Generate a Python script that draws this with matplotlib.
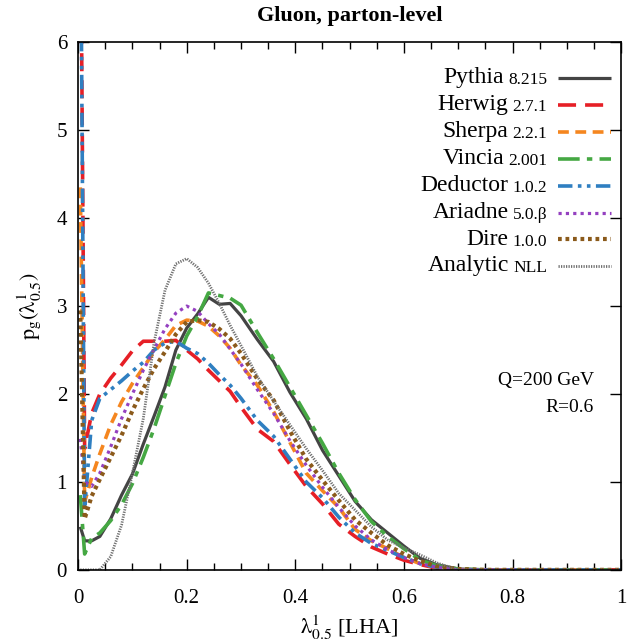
import matplotlib
matplotlib.use("Agg")
from matplotlib import pyplot as plt
from matplotlib.ticker import MultipleLocator

plt.rcParams['font.family'] = ['Liberation Serif', 'DejaVu Serif']
plt.rcParams['mathtext.fontset'] = 'stix'

# lambda^1_0.5 bin positions
lam = [0.004, 0.012, 0.025, 0.04, 0.06, 0.08, 0.10, 0.12, 0.14, 0.16, 0.18, 0.20,
       0.22, 0.24, 0.26, 0.28, 0.30, 0.33, 0.36, 0.39, 0.42, 0.45, 0.48, 0.51,
       0.54, 0.57, 0.60, 0.63, 0.66, 0.70, 0.75, 1.0]

pythia = [0.49, 0.33, 0.33, 0.38, 0.58, 0.85, 1.09, 1.43, 1.75, 2.08, 2.50, 2.75,
          2.91, 3.10, 3.02, 3.03, 2.89, 2.62, 2.37, 2.02, 1.72, 1.36, 1.07, 0.78,
          0.57, 0.42, 0.27, 0.13, 0.06, 0.01, 0.0, 0.0]
herwig = [8.0, 1.38, 1.78, 2.00, 2.18, 2.33, 2.49, 2.60, 2.60, 2.60, 2.61, 2.50,
          2.40, 2.27, 2.15, 2.03, 1.85, 1.60, 1.46, 1.20, 0.95, 0.75, 0.52, 0.38,
          0.26, 0.18, 0.11, 0.06, 0.02, 0.0, 0.0, 0.0]
sherpa = [4.35, 0.77, 1.05, 1.32, 1.65, 1.91, 2.12, 2.30, 2.48, 2.62, 2.78, 2.84,
          2.83, 2.77, 2.66, 2.52, 2.33, 2.10, 1.80, 1.45, 1.10, 0.90, 0.71, 0.46,
          0.33, 0.24, 0.14, 0.07, 0.03, 0.0, 0.0, 0.0]
vincia = [0.85, 0.18, 0.36, 0.42, 0.56, 0.74, 0.98, 1.28, 1.61, 1.98, 2.35, 2.66,
          2.88, 3.15, 3.12, 3.09, 3.01, 2.70, 2.40, 2.08, 1.76, 1.44, 1.10, 0.80,
          0.55, 0.38, 0.24, 0.11, 0.05, 0.01, 0.0, 0.0]
deductor = [8.0, 0.70, 1.70, 1.95, 2.05, 2.15, 2.26, 2.36, 2.50, 2.58, 2.60, 2.52,
            2.46, 2.35, 2.22, 2.10, 1.95, 1.70, 1.52, 1.26, 1.00, 0.82, 0.60, 0.42,
            0.30, 0.22, 0.14, 0.07, 0.03, 0.0, 0.0, 0.0]
ariadne = [1.49, 1.00, 0.95, 1.10, 1.40, 1.72, 2.00, 2.27, 2.51, 2.74, 2.92, 3.00,
           2.94, 2.80, 2.68, 2.51, 2.34, 2.05, 1.78, 1.47, 1.19, 0.94, 0.71, 0.50,
           0.34, 0.23, 0.14, 0.07, 0.03, 0.0, 0.0, 0.0]
dire = [2.95, 0.58, 0.84, 1.03, 1.28, 1.53, 1.81, 2.06, 2.29, 2.48, 2.68, 2.82,
        2.84, 2.82, 2.74, 2.63, 2.46, 2.17, 1.93, 1.58, 1.26, 1.02, 0.79, 0.57,
        0.42, 0.28, 0.18, 0.10, 0.04, 0.01, 0.0, 0.0]
analytic = [0.0, 0.0, 0.0, 0.0, 0.15, 0.51, 1.10, 1.72, 2.59, 3.18, 3.48, 3.54,
            3.44, 3.26, 3.03, 2.78, 2.55, 2.20, 1.92, 1.65, 1.38, 1.13, 0.87, 0.68,
            0.49, 0.34, 0.25, 0.17, 0.08, 0.0, 0.0, 0.0]

names = ['Pythia', 'Herwig', 'Sherpa', 'Vincia', 'Deductor', 'Ariadne', 'Dire', 'Analytic']
versions = ['8.215', '2.7.1', '2.2.1', '2.001', '1.0.2', '5.0.\u03b2', '1.0.0', 'NLL']
series = [pythia, herwig, sherpa, vincia, deductor, ariadne, dire, analytic]
colors = ['#444444', '#e61f26', '#f5861f', '#45a843', '#2f7fc1', '#9440c0', '#8b5a1b', '#707070']
styles = [(0, ()), (0, (5, 2.5)), (0, (3, 1.8)), (0, (6, 2, 1.5, 2)),
          (0, (4, 1.5, 1, 1.5, 1, 1.5)), (0, (1, 1.3)), (0, (0.9, 0.9)), (0, (0.45, 0.45))]
widths = [2.3, 2.6, 2.6, 2.6, 2.6, 2.3, 3.0, 2.0]

fig = plt.figure(figsize=(6.3, 6.41), dpi=100)
ax = fig.add_axes([0.124, 0.111, 0.862, 0.823])

handles = []
for y, c, ls, lw in zip(series, colors, styles, widths):
    h, = ax.plot(lam, y, color=c, linestyle=ls, lw=lw)
    handles.append(h)

ax.set_xlim(0, 1)
ax.set_ylim(0, 6)
ax.xaxis.set_major_locator(MultipleLocator(0.2))
ax.xaxis.set_minor_locator(MultipleLocator(0.05))
ax.yaxis.set_major_locator(MultipleLocator(1))
ax.xaxis.set_major_formatter(lambda v, p: '%g' % round(v, 2))
ax.tick_params(which='both', direction='in', top=True, right=True, labelsize=15)
ax.tick_params(axis='x', pad=14)
ax.tick_params(axis='y', pad=8)
ax.tick_params(which='major', length=8, width=1)
ax.tick_params(which='minor', length=5, width=1)
for s in ax.spines.values():
    s.set_linewidth(1.2)

ax.set_title('Gluon, parton-level', fontsize=16, fontweight='bold', pad=15)
ax.set_xlabel(r'$\mathrm{\lambda^{1}_{0.5}}$ [LHA]', fontsize=16, labelpad=4)
ax.set_ylabel(r'$\mathrm{p_g(\lambda^{1}_{0.5})}$', fontsize=16, labelpad=10)

leg = ax.legend(handles, versions, loc='upper right', bbox_to_anchor=(1.003, 0.967),
                markerfirst=False, frameon=False, fontsize=12.5, handlelength=3.05,
                labelspacing=0.62, handletextpad=0.6, borderpad=0.2)
for t, n in zip(leg.get_texts(), names):
    ax.annotate(n, xy=(0, 0), xycoords=t, xytext=(-3, 0), textcoords='offset points',
                ha='right', va='bottom', fontsize=17, zorder=6)

ax.text(0.95, 0.35, 'Q=200 GeV', transform=ax.transAxes, ha='right', fontsize=14)
ax.text(0.95, 0.30, 'R=0.6', transform=ax.transAxes, ha='right', fontsize=14)

fig.savefig('out.png', dpi=100)
